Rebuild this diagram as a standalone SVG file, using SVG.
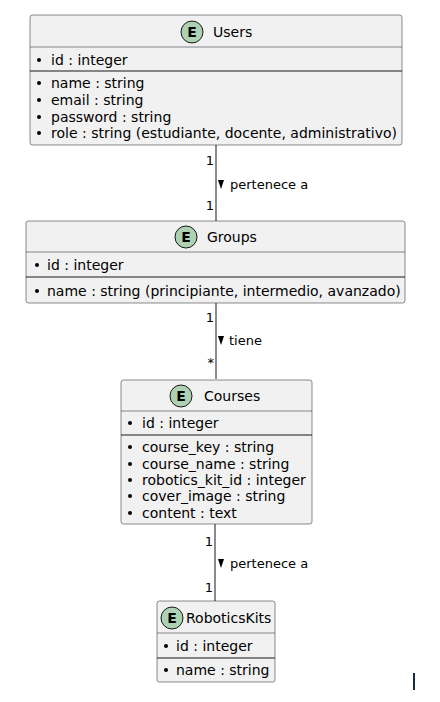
<svg xmlns="http://www.w3.org/2000/svg" width="440" height="702" viewBox="0 0 440 702">
<style>
.box{fill:#F1F1F1;stroke:#181818;stroke-width:0.5}
.hl{stroke:#181818;stroke-width:0.5}
.sep{stroke:#181818;stroke-width:1}
.ec{fill:#ADD1B2;stroke:#181818;stroke-width:1}
.el{font-family:"DejaVu Sans",sans-serif;font-size:14px;font-weight:bold;fill:#000;text-anchor:middle}
.t{font-family:"DejaVu Sans",sans-serif;font-size:14px;fill:#000}
.lb{font-family:"DejaVu Sans",sans-serif;font-size:13px;fill:#000}
.card{font-family:"DejaVu Sans",sans-serif;font-size:13px;fill:#000;text-anchor:end}
.b{fill:#000}
.edge{stroke:#181818;stroke-width:1;fill:none}
</style>
<g id="connectors">
<line class="edge" x1="216" y1="145" x2="216" y2="221"/>
<text class="card" x="214" y="165">1</text>
<text class="card" x="214" y="210">1</text>
<polygon points="218,180 224,180 221,189" fill="#000"/>
<text class="lb" x="230" y="189">pertenece a</text>
<line class="edge" x1="216" y1="303" x2="216" y2="379"/>
<text class="card" x="214" y="322">1</text>
<text class="card" x="214" y="367">*</text>
<polygon points="218,336 224,336 221,345" fill="#000"/>
<text class="lb" x="229" y="345">tiene</text>
<line class="edge" x1="215" y1="524" x2="215" y2="601"/>
<text class="card" x="213" y="546">1</text>
<text class="card" x="213" y="592">1</text>
<polygon points="218,559 224,559 221,568" fill="#000"/>
<text class="lb" x="230" y="568">pertenece a</text>
</g>
<g id="users">
<rect class="box" x="30" y="15" width="372" height="130" rx="2.5"/>
<circle class="ec" cx="192" cy="32" r="11"/>
<text class="el" x="192" y="37">E</text>
<text class="t" x="213" y="37">Users</text>
<line class="hl" x1="30" y1="47" x2="402" y2="47"/>
<circle class="b" cx="39" cy="60" r="2"/>
<text class="t" x="51" y="65">id : integer</text>
<line class="sep" x1="30" y1="71" x2="402" y2="71"/>
<circle class="b" cx="39" cy="83" r="2"/>
<text class="t" x="51" y="88">name : string</text>
<circle class="b" cx="39" cy="100" r="2"/>
<text class="t" x="51" y="105">email : string</text>
<circle class="b" cx="39" cy="117" r="2"/>
<text class="t" x="51" y="122">password : string</text>
<circle class="b" cx="39" cy="133" r="2"/>
<text class="t" x="51" y="138">role : string (estudiante, docente, administrativo)</text>
</g>
<g id="groups">
<rect class="box" x="26" y="221" width="379" height="82" rx="2.5"/>
<circle class="ec" cx="186" cy="237" r="11"/>
<text class="el" x="186" y="242">E</text>
<text class="t" x="207" y="242">Groups</text>
<line class="hl" x1="26" y1="252" x2="405" y2="252"/>
<circle class="b" cx="37" cy="265" r="2"/>
<text class="t" x="47" y="270">id : integer</text>
<line class="sep" x1="26" y1="277" x2="405" y2="277"/>
<circle class="b" cx="37" cy="291" r="2"/>
<text class="t" x="47" y="296">name : string (principiante, intermedio, avanzado)</text>
</g>
<g id="courses">
<rect class="box" x="121" y="380" width="191" height="144" rx="2.5"/>
<circle class="ec" cx="181" cy="396" r="11"/>
<text class="el" x="181" y="401">E</text>
<text class="t" x="204" y="401">Courses</text>
<line class="hl" x1="121" y1="411" x2="312" y2="411"/>
<circle class="b" cx="130" cy="423" r="2"/>
<text class="t" x="142" y="428">id : integer</text>
<line class="sep" x1="121" y1="435" x2="312" y2="435"/>
<circle class="b" cx="130" cy="447" r="2"/>
<text class="t" x="142" y="452">course_key : string</text>
<circle class="b" cx="130" cy="464" r="2"/>
<text class="t" x="142" y="469">course_name : string</text>
<circle class="b" cx="130" cy="480" r="2"/>
<text class="t" x="142" y="485">robotics_kit_id : integer</text>
<circle class="b" cx="130" cy="496" r="2"/>
<text class="t" x="142" y="501">cover_image : string</text>
<circle class="b" cx="130" cy="513" r="2"/>
<text class="t" x="142" y="518">content : text</text>
</g>
<g id="roboticskits">
<rect class="box" x="157" y="601" width="118" height="81" rx="2.5"/>
<circle class="ec" cx="172" cy="618" r="11"/>
<text class="el" x="172" y="623">E</text>
<text class="t" x="186" y="623">RoboticsKits</text>
<line class="hl" x1="157" y1="633" x2="275" y2="633"/>
<circle class="b" cx="166" cy="646" r="2"/>
<text class="t" x="176" y="651">id : integer</text>
<line class="sep" x1="157" y1="658" x2="275" y2="658"/>
<circle class="b" cx="166" cy="670" r="2"/>
<text class="t" x="176" y="675">name : string</text>
</g>
<rect x="413" y="673" width="2" height="17" fill="#1B2A44"/>
</svg>
